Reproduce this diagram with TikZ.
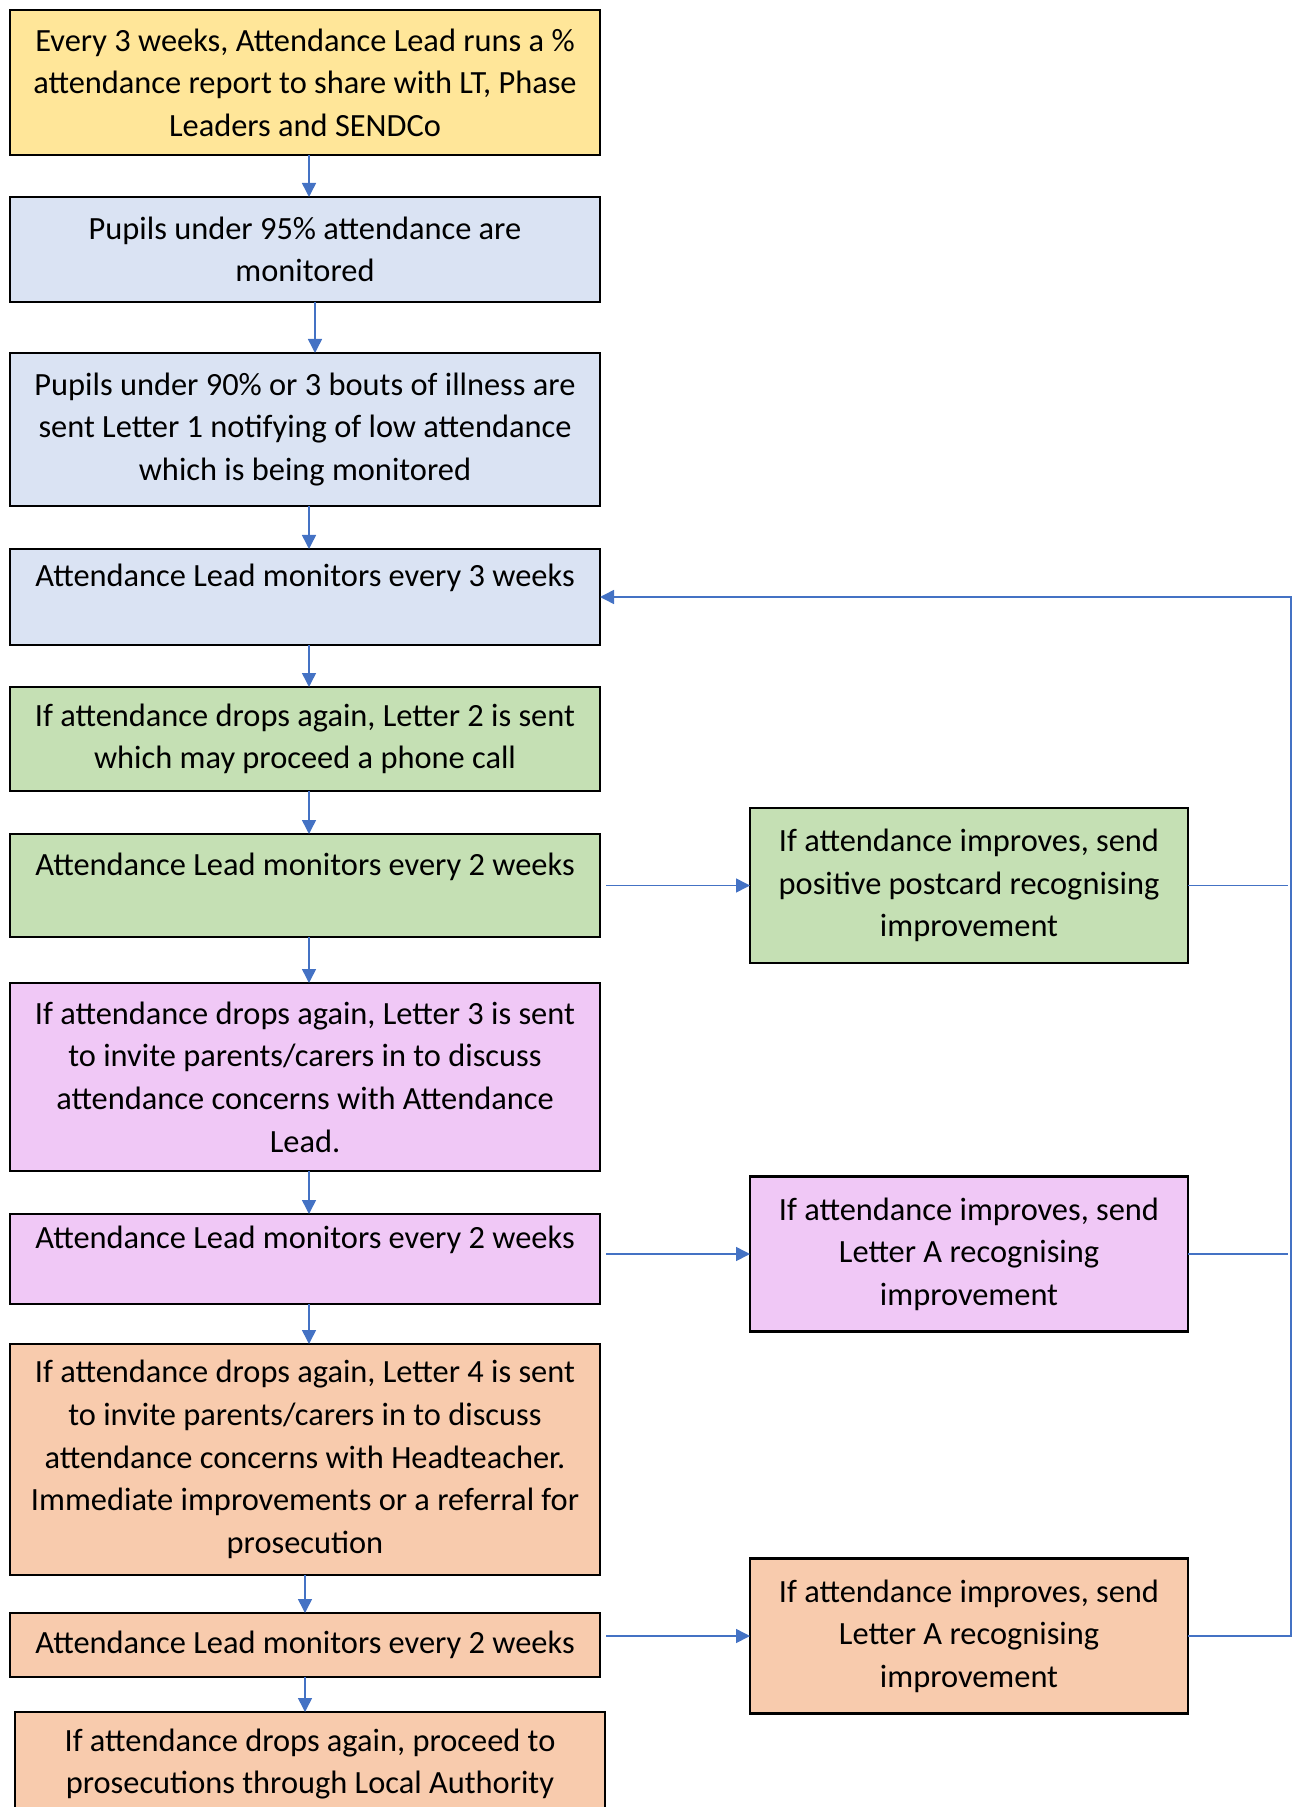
\documentclass[tikz,border=0pt]{standalone}
\usepackage{fontspec}
\setmainfont{Carlito}
\usetikzlibrary{arrows.meta,positioning}
\definecolor{boxyellow}{HTML}{FFE699}
\definecolor{boxblue}{HTML}{DAE3F3}
\definecolor{boxgreen}{HTML}{C5E0B4}
\definecolor{boxpink}{HTML}{F0C8F6}
\definecolor{boxorange}{HTML}{F8CBAD}
\definecolor{linkblue}{HTML}{4472C4}

\begin{document}
\begin{tikzpicture}[
    node distance=20pt,
    every node/.style={draw, line width=1.1pt, align=center, inner sep=0pt, outer sep=0pt, font=\fontsize{16.2pt}{21.3pt}\selectfont},
    leftbox/.style={minimum width=295pt},
    rightbox/.style={minimum width=219pt, minimum height=77.5pt},
    report/.style={fill=boxyellow},
    watch/.style={fill=boxblue},
    stagetwo/.style={fill=boxgreen},
    stagethree/.style={fill=boxpink},
    stagefour/.style={fill=boxorange},
    flow/.style={draw=linkblue, line width=0.75pt, -{Triangle[length=7pt,width=7pt]}},
    link/.style={draw=linkblue, line width=0.75pt}
]
\useasboundingbox (0,0) rectangle (649pt,-903.5pt);

% Main column
\node[leftbox, report, minimum height=72.5pt, anchor=north west] (report) at (5pt,-5pt)
    {Every 3 weeks, Attendance Lead runs a \%\\attendance report to share with LT, Phase\\Leaders and SENDCo};
\node[leftbox, watch, minimum height=52.5pt, below=21pt of report] (under95)
    {Pupils under 95\% attendance are\\monitored};
\node[leftbox, watch, minimum height=76.5pt, below=25.5pt of under95] (letter1)
    {Pupils under 90\% or 3 bouts of illness are\\sent Letter 1 notifying of low attendance\\which is being monitored};
\node[leftbox, watch, minimum height=48pt, below=21.5pt of letter1] (check3)
    {Attendance Lead monitors every 3 weeks\\~};
\node[leftbox, stagetwo, minimum height=52pt, below=21pt of check3] (letter2)
    {If attendance drops again, Letter 2 is sent\\which may proceed a phone call};
\node[leftbox, stagetwo, minimum height=51.5pt, below=21.5pt of letter2] (check2a)
    {Attendance Lead monitors every 2 weeks\\~};
\node[leftbox, stagethree, minimum height=94pt, below=23pt of check2a] (letter3)
    {If attendance drops again, Letter 3 is sent\\to invite parents/carers in to discuss\\attendance concerns with Attendance\\Lead.};
\node[leftbox, stagethree, minimum height=45pt, below=21.5pt of letter3] (check2b)
    {Attendance Lead monitors every 2 weeks\\~};
\node[leftbox, stagefour, minimum height=115.5pt, below=20pt of check2b] (letter4)
    {If attendance drops again, Letter 4 is sent\\to invite parents/carers in to discuss\\attendance concerns with Headteacher.\\Immediate improvements or a referral for\\prosecution};
\node[leftbox, stagefour, minimum height=32pt, below=19pt of letter4] (check2c)
    {Attendance Lead monitors every 2 weeks};
\node[leftbox, stagefour, minimum height=52pt, below=17.5pt of check2c, xshift=2.5pt] (prosecute)
    {If attendance drops again, proceed to\\prosecutions through Local Authority};

% Improvement boxes
\node[rightbox, stagetwo, right=75pt of check2a] (postcard)
    {If attendance improves, send\\positive postcard recognising\\improvement};
\node[rightbox, stagethree, right=75pt of check2b, yshift=2.5pt] (letterA1)
    {If attendance improves, send\\Letter A recognising\\improvement};
\node[rightbox, stagefour, right=75pt of check2c, yshift=4.5pt] (letterA2)
    {If attendance improves, send\\Letter A recognising\\improvement};

% Connections
\draw[flow] ([xshift=2pt]report.south) -- ([xshift=2pt]under95.north);
\draw[flow] ([xshift=5pt]under95.south) -- ([xshift=5pt]letter1.north);
\draw[flow] ([xshift=2pt]letter1.south) -- ([xshift=2pt]check3.north);
\draw[flow] ([xshift=2pt]check3.south) -- ([xshift=2pt]letter2.north);
\draw[flow] ([xshift=2pt]letter2.south) -- ([xshift=2pt]check2a.north);
\draw[flow] ([xshift=2pt]check2a.south) -- ([xshift=2pt]letter3.north);
\draw[flow] ([xshift=2pt]letter3.south) -- ([xshift=2pt]check2b.north);
\draw[flow] ([xshift=2pt]check2b.south) -- ([xshift=2pt]letter4.north);
\draw[flow] (letter4.south) -- (letter4.south |- check2c.north);
\draw[flow] (check2c.south) -- (check2c.south |- prosecute.north);

\draw[flow] ([xshift=3pt]postcard.west -| check2a.east) -- (postcard.west);
\draw[flow] ([xshift=3pt]letterA1.west -| check2b.east) -- (letterA1.west);
\draw[flow] ([xshift=3pt]letterA2.west -| check2c.east) -- (letterA2.west);

% Loop back to monitoring
\coordinate (back) at ([xshift=51.5pt]letterA2.east |- check3.east);
\draw[link] (postcard.east) -- ([xshift=-1.5pt]postcard.east -| back);
\draw[link] (letterA1.east) -- ([xshift=-1.5pt]letterA1.east -| back);
\draw[flow] (letterA2.east) -- (letterA2.east -| back) -- (back) -- (check3.east);

\end{tikzpicture}
\end{document}
